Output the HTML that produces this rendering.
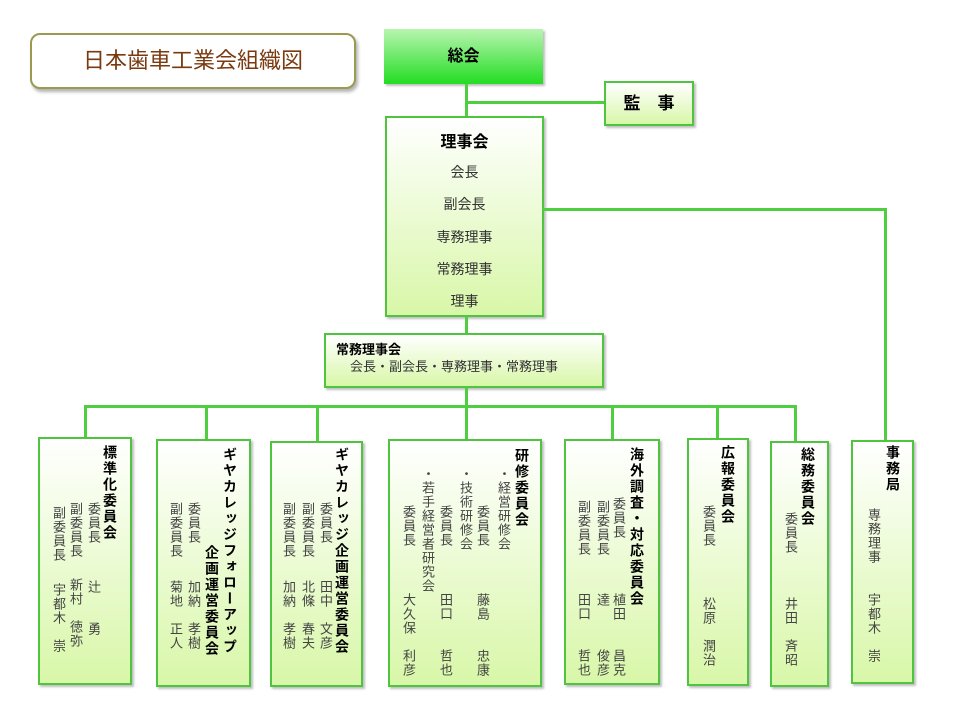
<!DOCTYPE html>
<html><head><meta charset="utf-8"><style>
body{margin:0;width:960px;height:720px;background:#fff;position:relative;overflow:hidden;font-family:"Liberation Sans","Noto Sans CJK JP",sans-serif;}
.a{position:absolute;}
.ln{position:absolute;background:#4fcf3f;}
.bx{position:absolute;box-sizing:border-box;border:2px solid #4fc43f;background:linear-gradient(#ffffff,#d8f7a8);box-shadow:2px 2px 2px rgba(0,0,0,0.25);}
.v{position:absolute;writing-mode:vertical-rl;width:16px;font-size:13px;line-height:16px;color:#444;letter-spacing:1px;white-space:nowrap;}
.t{font-size:14px;font-weight:bold;color:#000;letter-spacing:2px;}
</style></head><body>
<div class="a" style="left:30px;top:33px;width:326px;height:56px;box-sizing:border-box;border:2px solid #9a9a50;border-radius:10px;box-shadow:2px 3px 3px rgba(0,0,0,0.3);background:#fff;color:#7a3a10;font-size:22px;text-align:center;line-height:52px;">日本歯車工業会組織図</div>
<div class="a" style="left:384px;top:29px;width:159px;height:55px;background:linear-gradient(#b8f5b0,#22dd22);box-shadow:2px 2px 2px rgba(0,0,0,0.25);text-align:center;line-height:55px;font-size:16px;font-weight:bold;">総会</div>
<div class="ln" style="left:465px;top:84px;width:3px;height:33px"></div>
<div class="ln" style="left:466px;top:101px;width:139px;height:3px"></div>
<div class="bx" style="left:604px;top:81px;width:90px;height:45px;text-align:center;line-height:41px;font-size:17px;font-weight:bold;">監　事</div>
<div class="bx" style="left:385px;top:116px;width:159px;height:201px;text-align:center;color:#333;font-size:14px;">
<div style="position:absolute;top:10px;width:100%;font-size:16px;font-weight:bold;color:#000">理事会</div>
<div style="position:absolute;top:44px;width:100%">会長</div>
<div style="position:absolute;top:76px;width:100%">副会長</div>
<div style="position:absolute;top:109px;width:100%">専務理事</div>
<div style="position:absolute;top:141px;width:100%">常務理事</div>
<div style="position:absolute;top:173px;width:100%">理事</div>
</div>
<div class="ln" style="left:543px;top:208px;width:344px;height:3px"></div>
<div class="ln" style="left:884px;top:208px;width:3px;height:233px"></div>
<div class="ln" style="left:465px;top:316px;width:3px;height:18px"></div>
<div class="bx" style="left:324px;top:333px;width:280px;height:55px;font-size:13px;color:#333;">
<div style="position:absolute;left:10px;top:4px;font-weight:bold;color:#000;font-size:13px">常務理事会</div>
<div style="position:absolute;left:24px;top:21px">会長・副会長・専務理事・常務理事</div>
</div>
<div class="ln" style="left:465px;top:387px;width:3px;height:21px"></div>
<div class="ln" style="left:84px;top:405px;width:713px;height:3px"></div>
<div class="ln" style="left:84px;top:405px;width:3px;height:33px"></div>
<div class="ln" style="left:205px;top:405px;width:3px;height:35px"></div>
<div class="ln" style="left:316px;top:405px;width:3px;height:37px"></div>
<div class="ln" style="left:465px;top:405px;width:3px;height:35px"></div>
<div class="ln" style="left:611px;top:405px;width:3px;height:35px"></div>
<div class="ln" style="left:716px;top:405px;width:3px;height:34px"></div>
<div class="ln" style="left:794px;top:405px;width:3px;height:37px"></div>

<div class="bx" style="left:38px;top:437px;width:94px;height:248px"></div>
<div class="bx" style="left:156px;top:439px;width:95px;height:248px"></div>
<div class="bx" style="left:270px;top:441px;width:93px;height:246px"></div>
<div class="bx" style="left:388px;top:439px;width:154px;height:248px"></div>
<div class="bx" style="left:564px;top:439px;width:96px;height:246px"></div>
<div class="bx" style="left:687px;top:438px;width:62px;height:248px"></div>
<div class="bx" style="left:770px;top:441px;width:59px;height:246px"></div>
<div class="bx" style="left:851px;top:440px;width:63px;height:244px"></div>

<div class="v t" style="left:102px;top:445px">標準化委員会</div>
<div class="v" style="left:85px;top:502px">委員長</div>
<div class="v" style="left:67px;top:502px">副委員長</div>
<div class="v" style="left:50px;top:506px">副委員長</div>
<div class="v" style="left:85px;top:580px">辻　　勇</div>
<div class="v" style="left:67px;top:578px">新村　徳弥</div>
<div class="v" style="left:50px;top:583px">宇都木　崇</div>

<div class="v t" style="left:222px;top:447px">ギヤカレッジフォローアップ</div>
<div class="v t" style="left:204px;top:545px">企画運営委員会</div>
<div class="v" style="left:185px;top:502px">委員長</div>
<div class="v" style="left:167px;top:502px">副委員長</div>
<div class="v" style="left:185px;top:580px">加納　孝樹</div>
<div class="v" style="left:167px;top:580px">菊地　正人</div>

<div class="v t" style="left:334px;top:447px">ギヤカレッジ企画運営委員会</div>
<div class="v" style="left:317px;top:502px">委員長</div>
<div class="v" style="left:299px;top:502px">副委員長</div>
<div class="v" style="left:280px;top:502px">副委員長</div>
<div class="v" style="left:317px;top:580px">田中　文彦</div>
<div class="v" style="left:299px;top:580px">北條　春夫</div>
<div class="v" style="left:280px;top:580px">加納　孝樹</div>

<div class="v t" style="left:514px;top:448px">研修委員会</div>
<div class="v" style="left:495px;top:467px">・経営研修会</div>
<div class="v" style="left:474px;top:505px">委員長</div>
<div class="v" style="left:457px;top:467px">・技術研修会</div>
<div class="v" style="left:437px;top:505px">委員長</div>
<div class="v" style="left:419px;top:467px">・若手経営者研究会</div>
<div class="v" style="left:400px;top:505px">委員長</div>
<div class="v" style="left:474px;top:593px">藤島　　忠康</div>
<div class="v" style="left:437px;top:593px">田口　　哲也</div>
<div class="v" style="left:400px;top:593px">大久保　利彦</div>

<div class="v t" style="left:629px;top:447px">海外調査・対応委員会</div>
<div class="v" style="left:610px;top:497px">委員長</div>
<div class="v" style="left:594px;top:500px">副委員長</div>
<div class="v" style="left:575px;top:500px">副委員長</div>
<div class="v" style="left:610px;top:593px">植田　　昌克</div>
<div class="v" style="left:594px;top:593px">達　　　俊彦</div>
<div class="v" style="left:575px;top:593px">田口　　哲也</div>

<div class="v t" style="left:720px;top:445px">広報委員会</div>
<div class="v" style="left:700px;top:505px">委員長</div>
<div class="v" style="left:700px;top:597px">松原　潤治</div>

<div class="v t" style="left:800px;top:447px">総務委員会</div>
<div class="v" style="left:782px;top:512px">委員長</div>
<div class="v" style="left:782px;top:597px">井田　斉昭</div>

<div class="v t" style="left:885px;top:445px">事務局</div>
<div class="v" style="left:865px;top:508px">専務理事</div>
<div class="v" style="left:865px;top:593px">宇都木　崇</div>
</body></html>
